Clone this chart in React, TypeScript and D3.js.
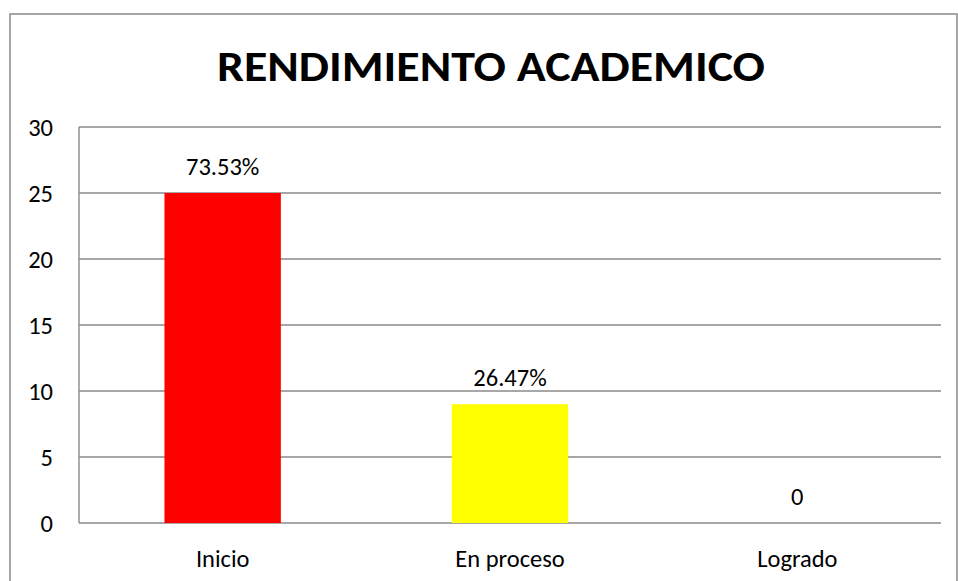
import React from "react";
import * as d3 from "d3";

const categories = ["Inicio", "En proceso", "Logrado"];
const values = [25, 9, 0];
const valueLabels = ["73.53%", "26.47%", "0"];
const barColors = ["#FF0000", "#FFFF00", "#4F81BD"];
const yTicks = [0, 5, 10, 15, 20, 25, 30];
const title = "RENDIMIENTO ACADEMICO";

const W = 958;
const H = 581;
const FONT = "Carlito, Calibri, Lato, sans-serif";

export default function App() {
  const plot = { left: 79, right: 941, top: 127, bottom: 523 };
  const y = d3.scaleLinear().domain([0, 30]).range([plot.bottom, plot.top]);
  const x = d3.scaleBand<string>().domain(categories).range([plot.left, plot.right]).padding(0);
  const bw = x.bandwidth() * 0.405;
  const grid = "#8a8a8a";

  return (
    <svg
      width={W}
      height={H}
      style={{ position: "absolute", left: 0, top: 0, background: "#fff" }}
      fontFamily={FONT}
    >
      <rect x={10} y={14} width={947} height={570} fill="#fff" stroke={grid} strokeWidth={1.5} />
      <text
        x={491}
        y={81}
        textAnchor="middle"
        fontWeight="bold"
        fontSize={43}
        textLength={548}
        lengthAdjust="spacingAndGlyphs"
        fill="#000"
      >
        {title}
      </text>
      {yTicks.map((t) => (
        <g key={t}>
          <line x1={plot.left} x2={plot.right} y1={y(t)} y2={y(t)} stroke={grid} strokeWidth={1.4} />
          <text x={53} y={y(t)} dy="0.36em" textAnchor="end" fontSize={24.5} fill="#000">
            {t}
          </text>
        </g>
      ))}
      <line x1={plot.left} x2={plot.left} y1={plot.top} y2={plot.bottom} stroke={grid} strokeWidth={1.4} />
      {categories.map((c, i) => {
        const cx = (x(c) as number) + x.bandwidth() / 2;
        const top = y(values[i]);
        return (
          <g key={c}>
            {values[i] > 0 && (
              <rect x={cx - bw / 2} y={top} width={bw} height={plot.bottom - top} fill={barColors[i]} />
            )}
            <text x={cx} y={top - 18} textAnchor="middle" fontSize={24.5} fill="#000">
              {valueLabels[i]}
            </text>
            <text x={cx} y={567} textAnchor="middle" fontSize={24.5} fill="#000">
              {c}
            </text>
          </g>
        );
      })}
    </svg>
  );
}
